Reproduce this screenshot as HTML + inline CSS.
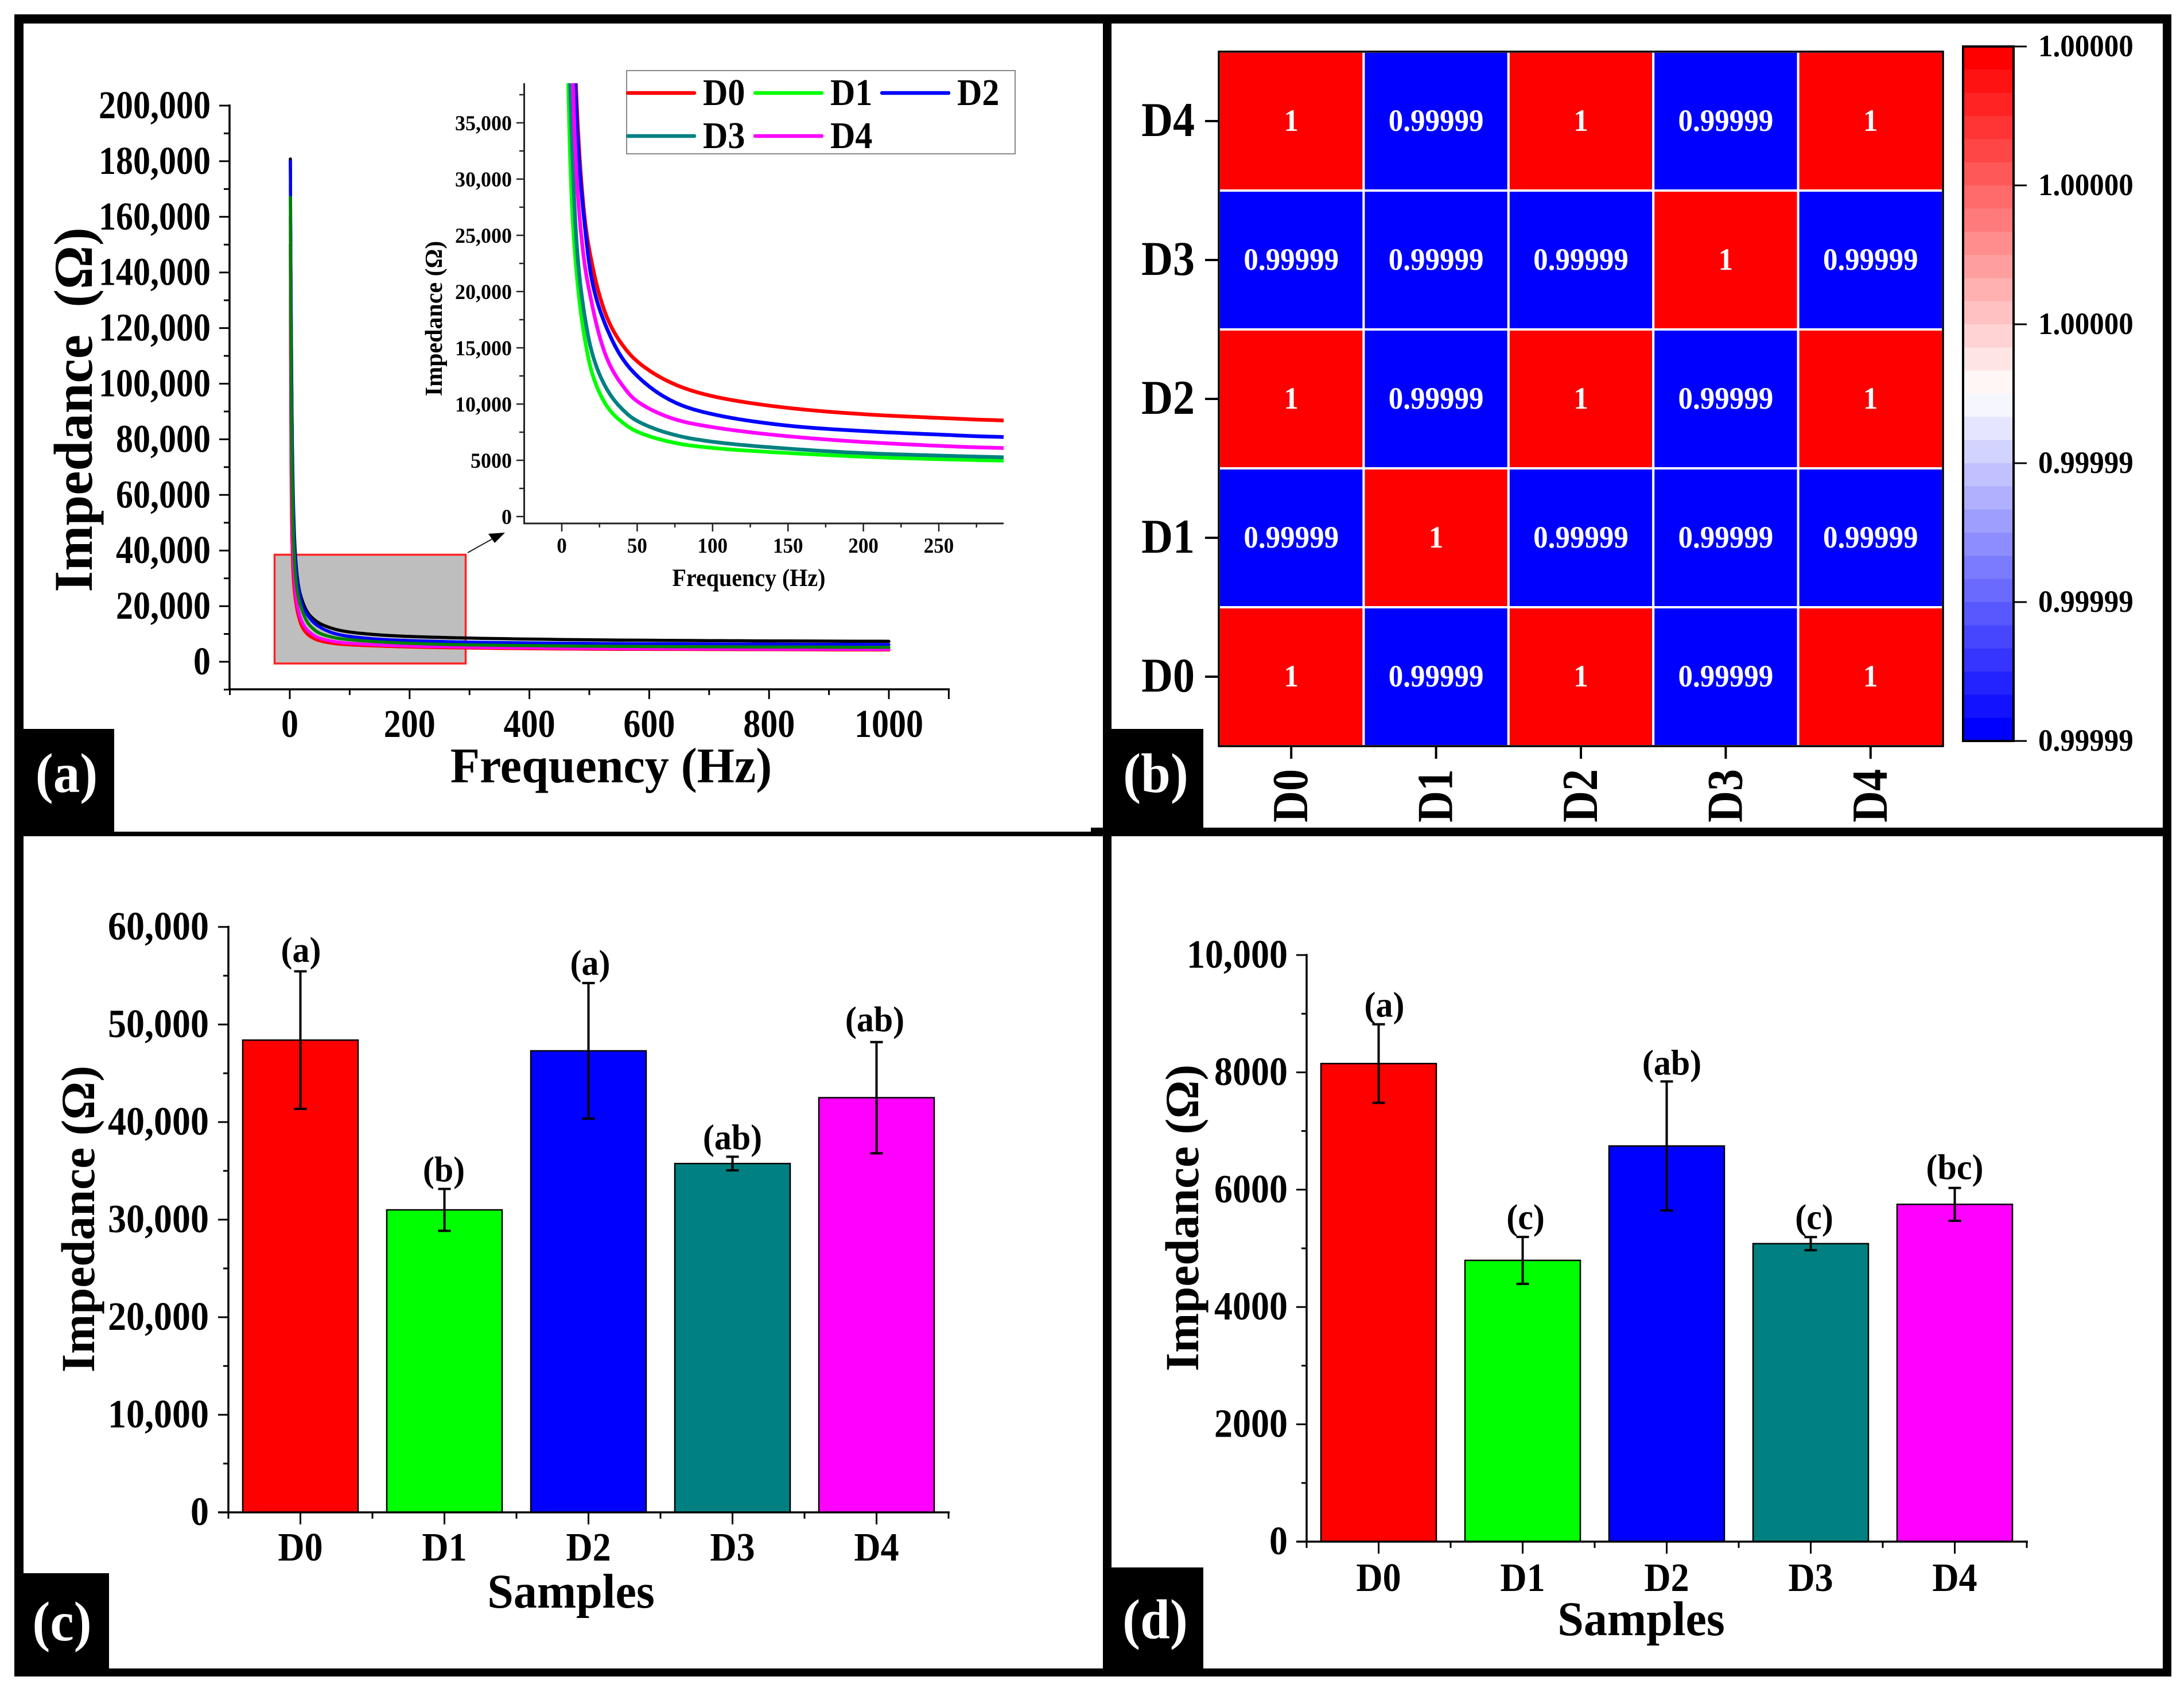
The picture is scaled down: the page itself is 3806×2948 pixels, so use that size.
<!DOCTYPE html>
<html lang="en">
<head>
<meta charset="utf-8">
<title>Impedance figure</title>
<style>
html,body{margin:0;padding:0;background:#fff;}
svg{display:block;}
text{font-family:"Liberation Serif","DejaVu Serif",serif;font-weight:bold;}
</style>
</head>
<body>
<svg id="fig" xmlns="http://www.w3.org/2000/svg" width="3806" height="2948" viewBox="0 0 3806 2948">
<defs>
<clipPath id="inset-clip"><rect x="913" y="145" width="836" height="767"/></clipPath>
</defs>
<rect x="0" y="0" width="3806" height="2948" fill="#fff"/>
<g id="frames" fill="#000">
<rect x="25" y="25" width="3759" height="16"/>
<rect x="25" y="25" width="16" height="2896"/>
<rect x="3769" y="25" width="15" height="2896"/>
<rect x="25" y="2907" width="3759" height="14"/>
<rect x="1922" y="25" width="15" height="2896"/>
<rect x="25" y="1449" width="1900" height="8"/>
<rect x="1901" y="1442" width="1883" height="15"/>
<rect x="41" y="1270" width="158" height="180"/>
<rect x="1937" y="1270" width="160" height="175"/>
<rect x="41" y="2741" width="149" height="166"/>
<rect x="1937" y="2731" width="160" height="176"/>
</g>
<g id="panel-a">
<rect x="478.500" y="966.500" width="333" height="189.500" fill="#bebebe" stroke="#f22" stroke-width="3.500"/>
<line x1="815" y1="963" x2="865" y2="935" stroke="#222" stroke-width="2"/>
<polygon points="880,928 851,930 862,946" fill="#000"/>
</g>
<g id="panel-b"></g>
<g id="panel-c"></g>
<g id="panel-d"></g>
<g id="tags"></g>
</svg>
<script>
// ---- Panel (a) data ----
const freqHz   = [1,2,3,5,7,10,15,20,30,40,50,75,100,150,200,250,293,500,750,1000];
const seriesD0 = [180800,135000,105000,68000,50000,36500,26800,22500,17700,15300,13800,11750,10700,9660,9100,8770,8540,7900,7550,7350];
const seriesD1 = [150000,78000,52000,34500,27000,21400,16000,12800,9800,8400,7550,6550,6100,5650,5320,5100,4970,4550,4400,4250];
const seriesD2 = [180000,132000,102000,65000,47500,35000,26200,21000,16700,14100,12500,10150,9100,8080,7600,7290,7070,6600,6350,6200];
const seriesD3 = [160000,95000,68000,42000,32500,24000,18000,14600,11300,9560,8500,7250,6650,6040,5640,5420,5270,4800,4600,4450];
const seriesD4 = [167000,115000,85000,55000,40500,30000,22600,18900,14050,11700,10250,8650,7950,7140,6630,6290,6090,5600,5350,5200];
const mainTicksY = [0,20000,40000,60000,80000,100000,120000,140000,160000,180000,200000];
const mainTicksX = [0,200,400,600,800,1000];
const insetTicksY = [0,5000,10000,15000,20000,25000,30000,35000];
const insetTicksX = [0,50,100,150,200,250];
// ---- Panel (b) data ----
const heatCategories = ['D0','D1','D2','D3','D4'];
const heatRowD0 = [1,0.99999,1,0.99999,1];
const heatRowD1 = [0.99999,1,0.99999,0.99999,0.99999];
const heatRowD2 = [1,0.99999,1,0.99999,1];
const heatRowD3 = [0.99999,0.99999,0.99999,1,0.99999];
const heatRowD4 = [1,0.99999,1,0.99999,1];
const colorbarLabels = ['1.00000','1.00000','1.00000','0.99999','0.99999','0.99999'];
// ---- Panel (c) data ----
const sampleNames = ['D0','D1','D2','D3','D4'];
const barColors = ['#ff0000','#00ff00','#0000ff','#008080','#ff00ff'];
const cValues = [48400,31000,47300,35750,42500];
const cErrors = [7050,2150,6950,700,5700];
const cLetters = ['(a)','(b)','(a)','(ab)','(ab)'];
const cLetterValues = [56400,33900,55100,37200,49300];
const cTicks = [0,10000,20000,30000,40000,50000,60000];
// ---- Panel (d) data ----
const dValues = [8150,4795,6745,5080,5750];
const dErrors = [670,400,1100,112,280];
const dLetters = ['(a)','(c)','(ab)','(c)','(bc)'];
const dLetterValues = [8950,5330,7960,5330,6180];
const dTicks = [0,2000,4000,6000,8000,10000];

const NS = 'http://www.w3.org/2000/svg';
function linear(d0,d1,r0,r1){return function(v){return r0+(v-d0)*(r1-r0)/(d1-d0);};}
function fmt(v){return v>=10000?String(v).replace(/\B(?=(\d{3})+$)/g,','):String(v);}
function mk(parent,tag,name){
  const el=document.createElementNS(NS,tag);
  
  
  parent.appendChild(el);
  return el;
}
function line(parent,name,x1,y1,x2,y2,w,c){
  const el=mk(parent,'line',name);
  el.setAttribute('x1',x1);el.setAttribute('y1',y1);el.setAttribute('x2',x2);el.setAttribute('y2',y2);
  el.setAttribute('stroke',c||'#000');el.setAttribute('stroke-width',w||3);
  return el;
}
function rect(parent,name,x,y,w,h,fill){
  const el=mk(parent,'rect',name);
  el.setAttribute('x',x);el.setAttribute('y',y);el.setAttribute('width',w);el.setAttribute('height',h);
  el.setAttribute('fill',fill);
  return el;
}
function txt(parent,name,s,x,y,size,anchor,fill,rot,sy){
  const el=mk(parent,'text',name);
  el.setAttribute('transform','translate('+x+','+y+')'+(rot?' rotate('+rot+')':'')+' scale(1,'+(sy||1)+')');
  el.setAttribute('font-size',size);
  el.setAttribute('text-anchor',anchor||'middle');
  el.setAttribute('fill',fill||'#000');
  el.textContent=s;
  return el;
}
// Smooth path through the read values, interpolated in log-log space
function curvePath(fs,vs,sx,sy){
  const lx=fs.map(Math.log), ly=vs.map(Math.log);
  let d='';
  for(let i=0;i<lx.length-1;i++){
    const x0=lx[Math.max(i-1,0)],x1=lx[i],x2=lx[i+1],x3=lx[Math.min(i+2,lx.length-1)];
    const y0=ly[Math.max(i-1,0)],y1=ly[i],y2=ly[i+1],y3=ly[Math.min(i+2,lx.length-1)];
    const steps=10;
    for(let k=(i?1:0);k<=steps;k++){
      const t=k/steps,t2=t*t,t3=t2*t;
      const X=0.5*(2*x1+(x2-x0)*t+(2*x0-5*x1+4*x2-x3)*t2+(3*x1-x0-3*x2+x3)*t3);
      const Y=0.5*(2*y1+(y2-y0)*t+(2*y0-5*y1+4*y2-y3)*t2+(3*y1-y0-3*y2+y3)*t3);
      d+=(d?'L':'M')+sx(Math.exp(X)).toFixed(1)+' '+sy(Math.exp(Y)).toFixed(1);
    }
  }
  return d;
}
function curve(parent,name,ys,sx,sy,color,w,clip){
  const el=mk(parent,'path',name);
  el.setAttribute('d',curvePath(freqHz,ys,sx,sy));
  el.setAttribute('fill','none');
  el.setAttribute('stroke',color);
  el.setAttribute('stroke-width',w);
  el.setAttribute('stroke-linecap',clip?'butt':'round');
  el.setAttribute('stroke-linejoin','round');
  if(clip)el.setAttribute('clip-path','url(#inset-clip)');
  return el;
}

// ======= Panel (a) main =======
(function(){
  const g=document.getElementById('panel-a');
  const sx=linear(0,1000,505,1549), sy=linear(0,200000,1153,184);
  curve(g,'curve-main-red',seriesD1,sx,sy,'#ff0000',5.5);
  curve(g,'curve-main-magenta',seriesD3,sx,sy,'#ff00ff',5.5);
  curve(g,'curve-main-black',seriesD0,sx,sy,'#000000',5.5);
  curve(g,'curve-main-blue',seriesD2,sx,sy,'#0000ff',5.5);
  curve(g,'curve-main-green',seriesD4,sx,sy,'#008000',5.5);
  line(g,'main-y-axis',400,sy(200000)-2,400,1203,3.5);
  line(g,'main-x-axis',398,1201,1655,1201,3.5);
  mainTicksY.forEach(function(v){
    line(g,'main-y-tick',382,sy(v),400,sy(v),3);
    txt(g,'main-y-tick-label',fmt(v),367,sy(v)+22,60,'end','#000',0,1.15);
    if(v<200000)line(g,'main-y-minor-tick',390,sy(v+10000),400,sy(v+10000),3);
  });
  line(g,'main-y-minor-tick',390,sy(-10000),400,sy(-10000),3);
  mainTicksX.forEach(function(v){
    line(g,'main-x-tick',sx(v),1201,sx(v),1218,3);
    txt(g,'main-x-tick-label',fmt(v),sx(v),1284,60,'middle','#000',0,1.15);
    line(g,'main-x-minor-tick',sx(v-100),1201,sx(v-100),1211,3);
  });
  line(g,'main-x-minor-tick',sx(1100),1201,sx(1100),1218,3);
  txt(g,'main-x-title','Frequency (Hz)',1065,1363,84,'middle','#000',0,1.03);
  txt(g,'main-y-title','Impedance\u00A0\u00A0(Ω)',160,714,95,'middle','#000',-90,1.0);

  // inset
  const ix=linear(0,250,979,1636), iy=linear(0,35000,900,214);
  curve(g,'curve-inset-d0',seriesD0,ix,iy,'#ff0000',6.5,true);
  curve(g,'curve-inset-d2',seriesD2,ix,iy,'#0000ff',6.5,true);
  curve(g,'curve-inset-d1',seriesD1,ix,iy,'#00ff00',6.5,true);
  curve(g,'curve-inset-d3',seriesD3,ix,iy,'#008080',6.5,true);
  curve(g,'curve-inset-d4',seriesD4,ix,iy,'#ff00ff',6.5,true);
  line(g,'inset-y-axis',913.5,145,913.5,913,3,'#222');
  line(g,'inset-x-axis',912,912,1749,912,3,'#222');
  insetTicksY.forEach(function(v){
    line(g,'inset-y-tick',900,iy(v),913,iy(v),2.5,'#222');
    txt(g,'inset-y-tick-label',fmt(v),892,iy(v)+13,36,'end','#000',0,1.02);
    line(g,'inset-y-minor-tick',905,iy(v+2500),913,iy(v+2500),2.5,'#222');
  });
  insetTicksX.forEach(function(v){
    line(g,'inset-x-tick',ix(v),912,ix(v),926,2.5,'#222');
    txt(g,'inset-x-tick-label',fmt(v),ix(v),963,35,'middle','#000',0,1.05);
    line(g,'inset-x-minor-tick',ix(v+25),912,ix(v+25),919,2.5,'#222');
  });
  txt(g,'inset-x-title','Frequency (Hz)',1305,1021,40,'middle','#000',0,1.08);
  txt(g,'inset-y-title','Impedance (Ω)',770,555,42,'middle','#000',-90,1);

  // legend
  const legend=mk(g,'g','legend');
  const box=rect(legend,'legend-box',1092,123,677,145,'#fff');
  box.setAttribute('stroke','#888');
  box.setAttribute('stroke-width','2');
  const legendNames=['D0','D1','D2','D3','D4'];
  const legendColors=['#ff0000','#00ff00','#0000ff','#008080','#ff00ff'];
  const legendX=[1092,1314,1535,1092,1314];
  const legendY=[161,161,161,236,236];
  legendNames.forEach(function(n,i){
    const l=line(legend,'legend-line-'+n.toLowerCase(),legendX[i]+2,legendY[i]+1,legendX[i]+118,legendY[i]+1,6.5,legendColors[i]);
    l.setAttribute('stroke-linecap','round');
    txt(legend,'legend-label-'+n.toLowerCase(),n,legendX[i]+133,legendY[i]+22,60,'start','#000',0,1.1);
  });
})();

// ======= Panel (b) =======
(function(){
  const g=document.getElementById('panel-b');
  const L=2124,R=3386,T=90,B=1300;
  const cw=(R-L)/5, ch=(B-T)/5;
  const rows=[heatRowD0,heatRowD1,heatRowD2,heatRowD3,heatRowD4];
  const colorOf=function(v){return v>=1?'#ff0000':'#0000ff';};
  const cx=function(i){return L+cw*(i+0.5);}, cy=function(j){return B-ch*(j+0.5);};
  const cells=mk(g,'g','heatmap-cells');
  rows.forEach(function(r,j){
    r.forEach(function(v,i){
      const c=rect(cells,'heat-cell-'+heatCategories[i]+'-'+heatCategories[j],cx(i)-cw/2,cy(j)-ch/2,cw,ch,colorOf(v));
      c.setAttribute('stroke','#fff');
      c.setAttribute('stroke-width','4');
      txt(g,'heat-cell-value',String(v),cx(i),cy(j)+17,51,'middle','#fff',0,1.05);
    });
  });
  const border=rect(g,'heatmap-border',L,T,R-L,B-T,'none');
  border.setAttribute('stroke','#000');
  border.setAttribute('stroke-width','3.500');
  heatCategories.forEach(function(n,i){
    line(g,'heat-y-tick',2100,cy(i),L,cy(i),4);
    txt(g,'heat-y-label',n,2082,cy(i)+26,76,'end','#000',0,1.12);
    line(g,'heat-x-tick',cx(i),B,cx(i),1322,4);
    txt(g,'heat-x-label',n,cx(i)+28,1340,76,'end','#000',-90,1.15);
  });
  // colorbar
  const bands=30, bx=3421, bw=88, bt=81, bb=1291, bh=(bb-bt)/bands;
  const bar=mk(g,'g','colorbar');
  for(let i=0;i<bands;i++){
    let c;
    if(i<15){const k=Math.round(255*i/14.5);c='rgb(255,'+k+','+k+')';}
    else{const k=Math.round(255*(29-i)/14.5);c='rgb('+k+','+k+',255)';}
    const r=rect(bar,'colorbar-band',bx,bt+i*bh,bw,bh+0.6,c);
  }
  const cb=rect(bar,'colorbar-border',bx,bt,bw,bb-bt,'none');
  cb.setAttribute('stroke','#000');
  cb.setAttribute('stroke-width','4');
  colorbarLabels.forEach(function(s,i){
    const y=bt+i*(bb-bt)/(colorbarLabels.length-1);
    line(bar,'colorbar-tick',bx+bw,y,3532,y,3);
    txt(bar,'colorbar-label',s,3552,y+17,51,'start','#000',0,1.06);
  });
})();

// ======= Bar panels =======
function barPanel(id,opt){
  const g=document.getElementById(id);
  const sy=linear(0,opt.max,opt.y0,opt.yTop);
  const sx=linear(0,4,opt.x0,opt.x0+4*251);
  const bw=201, left=opt.x0-125.5, right=opt.x0+4*251+125.5;
  opt.values.forEach(function(v,i){
    const b=rect(g,'bar-'+sampleNames[i].toLowerCase(),sx(i)-bw/2,sy(v),bw,sy(0)-sy(v),barColors[i]);
    b.setAttribute('stroke','#000');
    b.setAttribute('stroke-width','2.500');
    const e=opt.errors[i], x=sx(i)+(opt.errDx||0);
    line(g,'error-bar',x,sy(v+e),x,sy(v-e),4);
    line(g,'error-cap-top',x-11,sy(v+e),x+11,sy(v+e),4);
    line(g,'error-cap-bottom',x-11,sy(v-e),x+11,sy(v-e),4);
    txt(g,'significance-letter',opt.letters[i],sx(i)+(opt.letterDx?opt.letterDx[i]:0),sy(opt.letterValues[i]),60,'middle','#000',0,1.05);
    txt(g,'x-tick-label',sampleNames[i],sx(i),opt.y0+(opt.xLabelDy||84),64,'middle','#000',0,1.1);
    line(g,'x-tick',sx(i),opt.y0,sx(i),opt.y0+21,3);
    line(g,'x-minor-tick',sx(i)-125.5,opt.y0,sx(i)-125.5,opt.y0+11,3);
  });
  line(g,'x-minor-tick',right,opt.y0,right,opt.y0+11,3);
  line(g,'y-axis',left,opt.yTop-2,left,opt.y0+2,3.5);
  line(g,'x-axis',left-18,opt.y0,right+2,opt.y0,3.5);
  opt.ticks.forEach(function(v,i){
    line(g,'y-tick',left-18,sy(v),left,sy(v),3);
    txt(g,'y-tick-label',fmt(v),opt.labelRight,sy(v)+22,opt.tickFont,'end','#000',0,1.1);
    if(i<opt.ticks.length-1){
      const m=(v+opt.ticks[i+1])/2;
      line(g,'y-minor-tick',left-9,sy(m),left,sy(m),3);
    }
  });
  txt(g,'x-title','Samples',opt.xTitleX,opt.xTitleY,82,'middle','#000',0,1.03);
  txt(g,'y-title','Impedance (Ω)',opt.yTitleX,opt.yTitleY,83,'middle','#000',-90,1);
}
barPanel('panel-c',{max:60000,y0:2635,yTop:1615,x0:523.5,values:cValues,errors:cErrors,letters:cLetters,letterValues:cLetterValues,letterDx:[1,-1,3,0,-3],ticks:cTicks,labelRight:364,tickFont:64,xTitleX:995,xTitleY:2801,yTitleX:164,yTitleY:2124,xLabelDy:84});
barPanel('panel-d',{max:10000,y0:2686,yTop:1664,x0:2402.5,values:dValues,errors:dErrors,letters:dLetters,letterValues:dLetterValues,letterDx:[10,5,9,6,0],ticks:dTicks,labelRight:2244,tickFont:64,xTitleX:2860,xTitleY:2849,yTitleX:2088,yTitleY:2122,xLabelDy:86});

// ======= Panel tags =======
(function(){
  const g=document.getElementById('tags');
  txt(g,'panel-a-label','(a)',116,1380,93,'middle','#fff',0,1.05);
  txt(g,'panel-b-label','(b)',2014,1380,93,'middle','#fff',0,1.05);
  txt(g,'panel-c-label','(c)',108,2858,93,'middle','#fff',0,1.05);
  txt(g,'panel-d-label','(d)',2013,2854,93,'middle','#fff',0,1.05);
})();
</script>
</body>
</html>
